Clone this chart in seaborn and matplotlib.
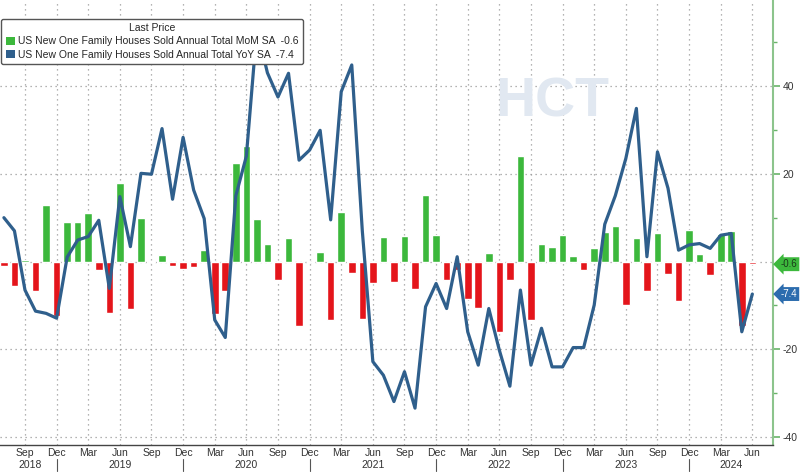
import numpy as np
import pandas as pd
import matplotlib
matplotlib.use("Agg")
import matplotlib.pyplot as plt
from matplotlib.patches import Patch
import seaborn as sns

# ---- data (monthly, Jul 2018 .. Jun 2024) ----
start_month = "2018-07-01"
mom = [-1.1, -5.5, 0.3, -6.7, 12.9, -12.3, 9.1, 9.1, 11.1, -2.0, -11.8, 18.0,
       -10.9, 9.9, 0.1, 1.4, -1.0, -1.6, -1.25, 2.6, -12.0, -6.6, 22.5, 26.4,
       9.7, 4.1, -4.1, 5.4, -14.7, -0.2, 2.1, -13.3, 11.3, -2.7, -13.0, -4.8,
       5.6, -4.7, 5.9, -6.3, 15.2, 6.1, -4.2, -2.0, -8.5, -10.6, 2.0, -16.1,
       -4.2, 24.1, -13.3, 3.9, 3.3, 6.1, 1.25, -1.9, 3.2, 6.8, 8.0, -10.0,
       5.3, -6.6, 6.5, -2.8, -9.1, 7.1, 1.7, -3.1, 6.3, 6.9, -14.7, -0.6]
yoy = [10.0, 7.0, -6.5, -11.3, -11.8, -12.9, 1.0, 4.9, 5.7, 9.4, -6.1, 14.8,
       3.4, 20.1, 19.9, 30.3, 14.2, 28.3, 16.3, 9.8, -13.3, -17.3, 15.0, 24.0,
       53.0, 43.0, 37.5, 42.9, 23.1, 25.4, 29.9, 9.5, 38.7, 44.8, 7.0, -22.8,
       -25.9, -31.9, -25.1, -33.4, -10.3, -5.0, -10.7, 1.1, -16.0, -23.6, -10.7, -20.2,
       -28.4, -6.5, -23.6, -15.2, -24.0, -24.0, -19.6, -19.6, -9.9, 8.5, 15.0, 23.5,
       34.9, 1.1, 25.0, 16.7, 2.6, 3.8, 4.1, 3.0, 6.0, 6.4, -16.0, -7.4]
mom_label = "US New One Family Houses Sold Annual Total MoM SA"
yoy_label = "US New One Family Houses Sold Annual Total YoY SA"
last_mom = "-0.6"
last_yoy = "-7.4"
year_labels = ["2018", "2019", "2020", "2021", "2022", "2023", "2024"]
y_ticks = [-40, -20, 20, 40]

GREEN = "#3cb83c"
RED = "#e4151b"
BLUE = "#2f5f8c"
TAG_BLUE = "#2c6cae"

months = pd.date_range(start_month, periods=len(mom), freq="MS")
df = pd.DataFrame({"idx": np.arange(len(mom)), "mom": mom, "yoy": yoy})
df["sign"] = np.where(df["mom"] >= 0, "up", "down")

sns.set_style("white")
plt.rcParams["font.family"] = ["Liberation Sans", "DejaVu Sans"]

fig = plt.figure(figsize=(8, 4.75), dpi=100)
ax = fig.add_axes([0, 30 / 475, 773 / 800, 445 / 475])

# grid
quarter_idx = [i for i, m in enumerate(months) if m.month in (3, 6, 9, 12)]
for y in [-40, -20, 0, 20, 40]:
    ax.axhline(y, color="#9a9a9a", ls=(0, (1, 3)), lw=0.9, zorder=1)
for i in quarter_idx:
    ax.axvline(i, color="#9a9a9a", ls=(0, (1, 3)), lw=0.9, zorder=1)

sns.barplot(data=df, x="idx", y="mom", hue="sign",
            palette={"up": GREEN, "down": RED}, native_scale=True,
            dodge=False, width=0.72, saturation=1, legend=False,
            ax=ax, zorder=2)
sns.lineplot(data=df, x="idx", y="yoy", color=BLUE, lw=2.3, ax=ax, zorder=3)

ax.set_xlim(-0.37, 72.96)
ax.set_ylim(-41.8, 59.6)
ax.set_xlabel("")
ax.set_ylabel("")

# x axis ticks
ax.set_xticks(quarter_idx)
ax.set_xticklabels([months[i].strftime("%b") for i in quarter_idx])
ax.set_xticks(range(len(mom) + 1), minor=True)
ax.tick_params(axis="x", which="major", direction="in", length=5, width=0.8,
               color="#444444", labelsize=7.5, pad=2, labelcolor="#333333")
ax.tick_params(axis="x", which="minor", direction="in", length=3, width=0.7,
               color="#444444")

trans = ax.get_xaxis_transform()
year_pos = [2.5, 11, 23, 35, 47, 59, 69]
for yl, xp in zip(year_labels, year_pos):
    ax.text(xp, -0.046, yl, transform=trans, ha="center", va="center",
            fontsize=7.5, color="#333333", clip_on=False)
for i, m in enumerate(months):
    if m.month == 12:
        ax.plot([i, i], [-0.032, -0.058], transform=trans, color="#555555",
                lw=0.8, clip_on=False)

# y axis on the right
ax.yaxis.tick_right()
ax.set_yticks(y_ticks)
ax.set_yticklabels([str(v) for v in y_ticks])
ax.set_yticks([-30, -10, 10, 30, 50], minor=True)
ax.tick_params(axis="y", which="major", direction="out", length=5, width=1.2,
               color="#6ab46a", labelsize=7.5, pad=2, labelcolor="#333333")
ax.tick_params(axis="y", which="minor", direction="out", length=3, width=1.0,
               color="#6ab46a")

for s in ["left", "top"]:
    ax.spines[s].set_visible(False)
ax.spines["right"].set_color("#8cc48c")
ax.spines["right"].set_linewidth(1.5)
ax.spines["bottom"].set_color("#444444")
ax.spines["bottom"].set_linewidth(1.0)

# last value tags
ytr = ax.get_yaxis_transform()
ax.annotate(last_mom, xy=(1.0, float(last_mom)), xycoords=ytr,
            xytext=(5.5, 0), textcoords="offset points", ha="left", va="center",
            fontsize=7, color="#1a3a1a",
            bbox=dict(boxstyle="larrow,pad=0.2", fc=GREEN, ec="none"),
            annotation_clip=False)
ax.annotate(last_yoy, xy=(1.0, float(last_yoy)), xycoords=ytr,
            xytext=(5.5, 0), textcoords="offset points", ha="left", va="center",
            fontsize=7, color="white",
            bbox=dict(boxstyle="larrow,pad=0.2", fc=TAG_BLUE, ec="none"),
            annotation_clip=False)

# watermark
fig.text(0.69, 0.785, "HCT", fontsize=40, fontweight="bold", color="#e1e8f1",
         ha="center", va="center", zorder=0)

# legend
handles = [Patch(fc=GREEN, ec="none"), Patch(fc=BLUE, ec="none")]
labels = [f"{mom_label}  {last_mom}", f"{yoy_label}  {last_yoy}"]
leg = ax.legend(handles, labels, title="Last Price", loc="upper left",
                bbox_to_anchor=(-0.005, 1 - 14 / 445), fontsize=7.5,
                title_fontsize=7.5, frameon=True, fancybox=True,
                edgecolor="#555555", framealpha=1, handlelength=0.9,
                handleheight=0.9, handletextpad=0.3, borderpad=0.4,
                labelspacing=0.3)
leg.get_frame().set_linewidth(1.0)
leg.set_zorder(5)

fig.savefig("out.png", dpi=100)
